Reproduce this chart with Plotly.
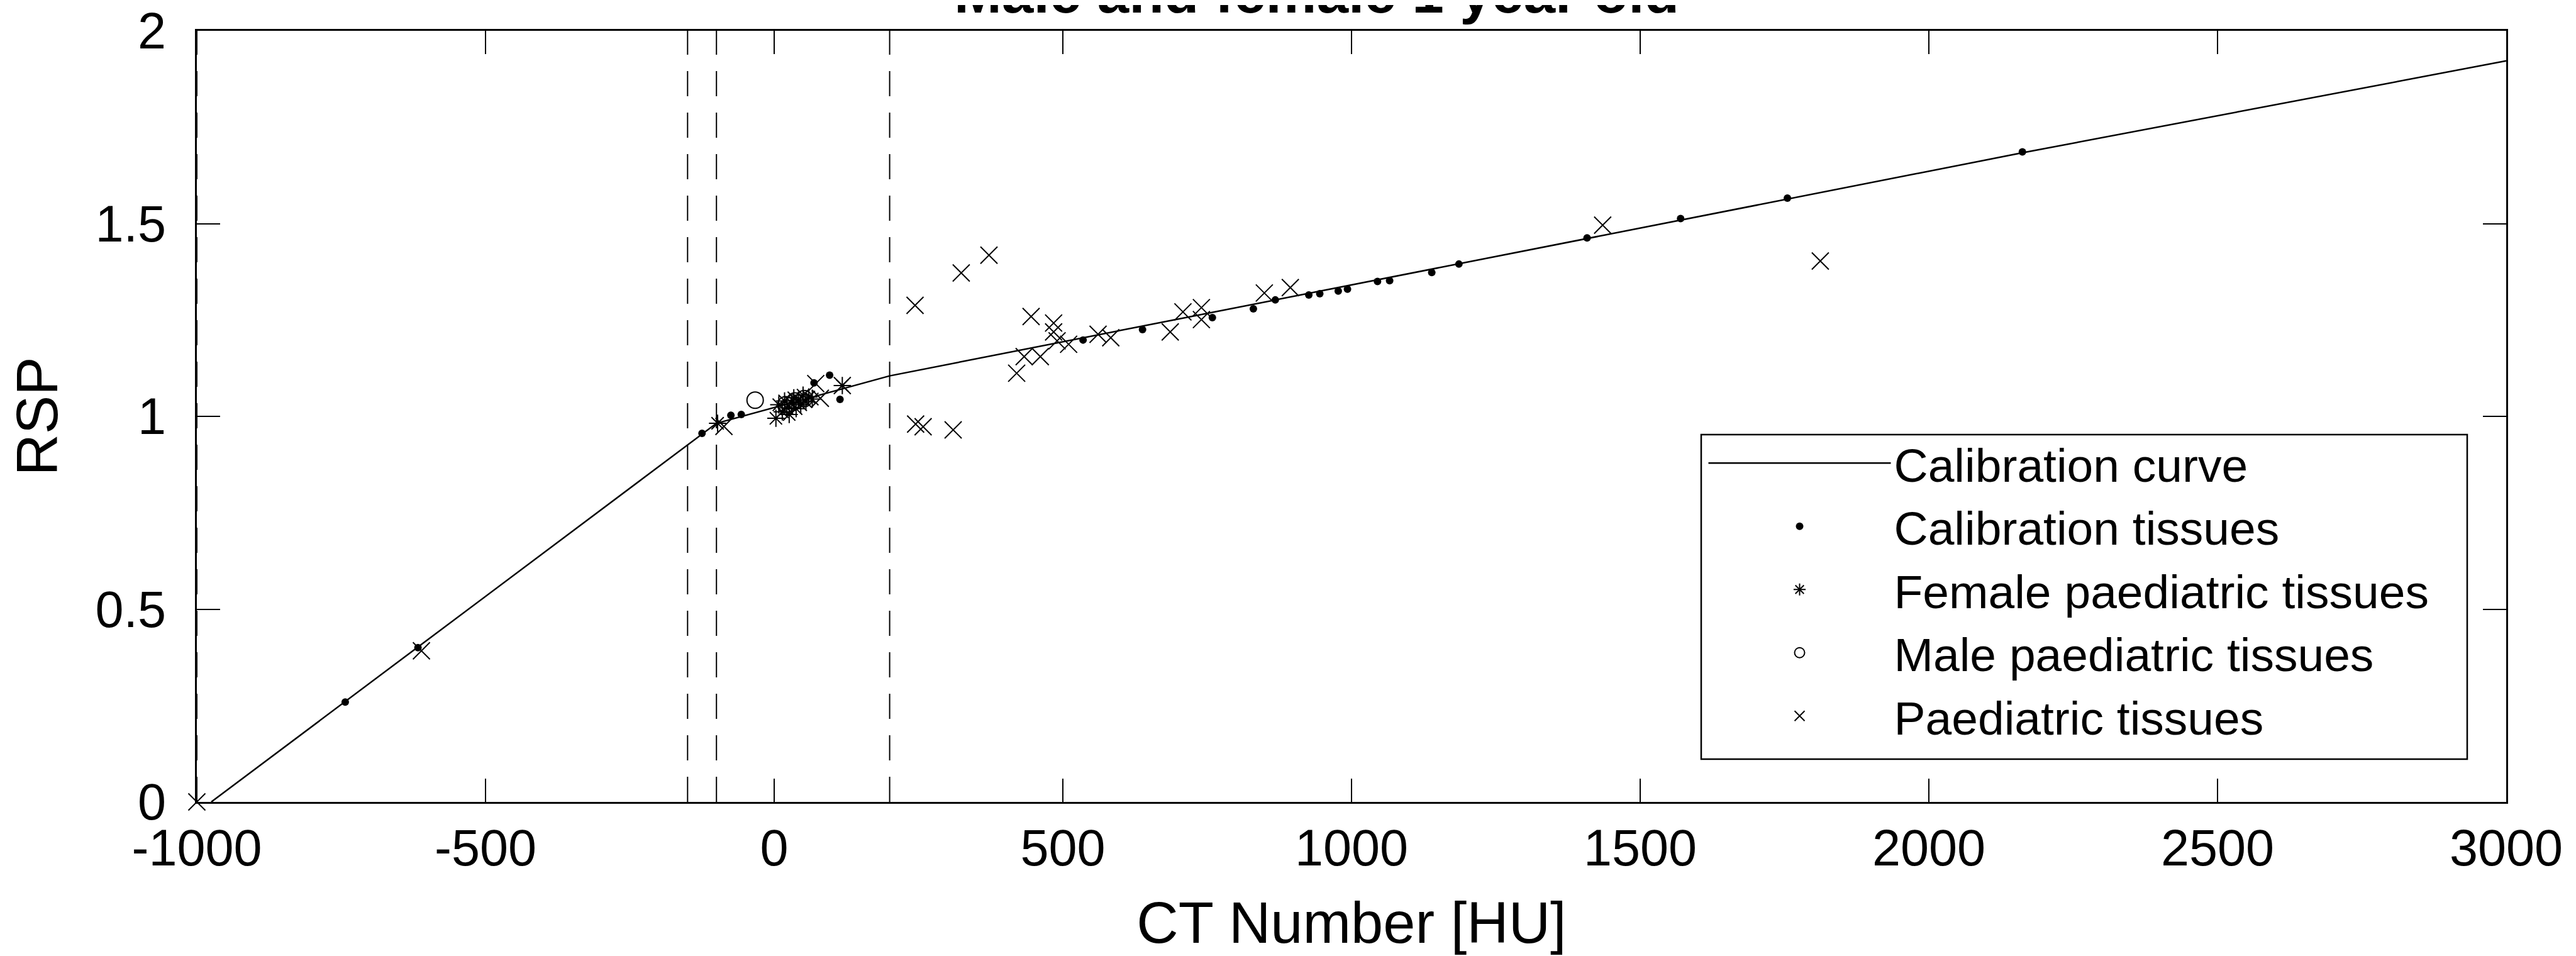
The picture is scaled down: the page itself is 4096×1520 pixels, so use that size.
import plotly.graph_objects as go

# ---- data ----
curve_hu = [-975, -100, 200, 2160, 3000]
curve_rsp = [0.0, 0.982, 1.105, 1.683, 1.922]

calib_hu = [-743, -617, -125, -75, -57, 69, 96, 114, 535, 638, 759, 830, 868, 926,
            945, 977, 993, 1045, 1066, 1139, 1186, 1408, 1570, 1755, 2162]
calib_rsp = [0.259, 0.400, 0.956, 1.003, 1.005, 1.087, 1.107, 1.044, 1.198, 1.225,
             1.256, 1.279, 1.302, 1.315, 1.318, 1.325, 1.330, 1.350, 1.352, 1.373,
             1.395, 1.463, 1.513, 1.566, 1.686]

female_hu = [-98, 3, 8, 14, 18, 22, 26, 30, 34, 38, 42, 46, 50, 55, 60, 66, 118]
female_rsp = [0.982, 0.995, 1.030, 1.012, 1.040, 1.022, 1.005, 1.035, 1.048, 1.020,
              1.042, 1.030, 1.055, 1.038, 1.050, 1.045, 1.080]

male_hu = [-33, 20, 36, 52]
male_rsp = [1.042, 1.030, 1.040, 1.046]

paed_hu = [-1000, -611, -87, 72, 80, 118, 244, 245, 258, 310, 324, 372, 420, 433,
           445, 461, 484, 484, 490, 510, 561, 583, 686, 708, 740, 740, 849, 894,
           1435, 1812]
paed_rsp = [0.0, 0.392, 0.974, 1.085, 1.047, 1.080, 1.288, 0.980, 0.973, 0.965,
            1.372, 1.418, 1.112, 1.155, 1.259, 1.155, 1.242, 1.219, 1.196, 1.187,
            1.213, 1.204, 1.219, 1.271, 1.282, 1.251, 1.320, 1.334, 1.496, 1.403]

boundary_hu = [-1000, -150, -100, 200]
rsp_span = [0, 2]

x_ticks = [-1000, -500, 0, 500, 1000, 1500, 2000, 2500, 3000]
x_ticklabels = ["-1000", "-500", "0", "500", "1000", "1500", "2000", "2500", "3000"]
y_ticks = [0, 0.5, 1, 1.5, 2]
y_ticklabels = ["0", "0.5", "1", "1.5", "2"]

FONT = "Liberation Sans, Arial, Helvetica, sans-serif"

# plot-area geometry in pixels (for paper-coordinate placement)
PL, PR, PT, PB = 305, 3977, 41, 1267


def px2paper_x(px):
    return (px - PL) / float(PR - PL)


def py2paper_y(py):
    return (PB - py) / float(PB - PT)


fig = go.Figure()

for b in boundary_hu:
    fig.add_trace(go.Scatter(
        x=[b, b], y=rsp_span, mode="lines", showlegend=False, hoverinfo="skip",
        line=dict(color="black", width=2, dash="40px,26px")))

fig.add_trace(go.Scatter(
    x=curve_hu, y=curve_rsp, mode="lines", name="Calibration curve",
    line=dict(color="black", width=2.5)))

fig.add_trace(go.Scatter(
    x=calib_hu, y=calib_rsp, mode="markers", name="Calibration tissues",
    marker=dict(symbol="circle", size=12, color="black", line=dict(width=0))))

fig.add_trace(go.Scatter(
    x=female_hu, y=female_rsp, mode="markers", name="Female paediatric tissues",
    marker=dict(symbol="asterisk-open", size=23, color="black",
                line=dict(width=2, color="black"))))

fig.add_trace(go.Scatter(
    x=male_hu, y=male_rsp, mode="markers", name="Male paediatric tissues",
    marker=dict(symbol="circle-open", size=26, color="black",
                line=dict(width=2, color="black"))))

fig.add_trace(go.Scatter(
    x=paed_hu, y=paed_rsp, mode="markers", name="Paediatric tissues",
    cliponaxis=False,
    marker=dict(symbol="x-thin-open", size=27, color="black",
                line=dict(width=2, color="black"))))

axis_common = dict(
    showline=True, linecolor="black", linewidth=2.5, mirror="ticks",
    ticks="inside", ticklen=37, tickwidth=2, tickcolor="black",
    showgrid=False, zeroline=False, ticklabeloverflow="allow",
    tickfont=dict(family=FONT, size=81, color="black"),
)

fig.update_xaxes(
    range=[-1000, 3000], tickvals=x_ticks, ticktext=x_ticklabels, ticklabelstandoff=1,
    title=dict(text="CT Number [HU]", font=dict(family=FONT, size=92, color="black"),
               standoff=43),
    **axis_common)
fig.update_yaxes(
    range=[0, 2], tickvals=y_ticks, ticktext=y_ticklabels, ticklabelstandoff=30,
    title=dict(text="RSP", font=dict(family=FONT, size=92, color="black"),
               standoff=30),
    **axis_common)

fig.add_annotation(
    text="<b>Male and female 1 year old</b>", xref="paper", yref="paper",
    x=0.485, y=1.0065, xanchor="center", yanchor="bottom", showarrow=False,
    font=dict(family=FONT, size=91, color="black"))

# legend frame (MATLAB-style box)
fig.add_shape(type="rect", xref="paper", yref="paper",
              x0=px2paper_x(2697), x1=px2paper_x(3915),
              y0=py2paper_y(1199), y1=py2paper_y(683),
              line=dict(color="black", width=2.5), fillcolor="white", layer="below")

fig.update_layout(
    width=4096, height=1520,
    margin=dict(l=PL, r=4096 - PR, t=PT, b=1520 - PB, autoexpand=False),
    paper_bgcolor="white", plot_bgcolor="white",
    font=dict(family=FONT, color="black"),
    legend=dict(
        x=px2paper_x(2703.5), y=py2paper_y(673), xanchor="left", yanchor="top",
        bgcolor="rgba(0,0,0,0)", borderwidth=0,
        font=dict(family=FONT, size=75, color="black"),
        itemwidth=290, tracegroupgap=0, itemsizing="trace"),
)

fig.write_html("out.html")
